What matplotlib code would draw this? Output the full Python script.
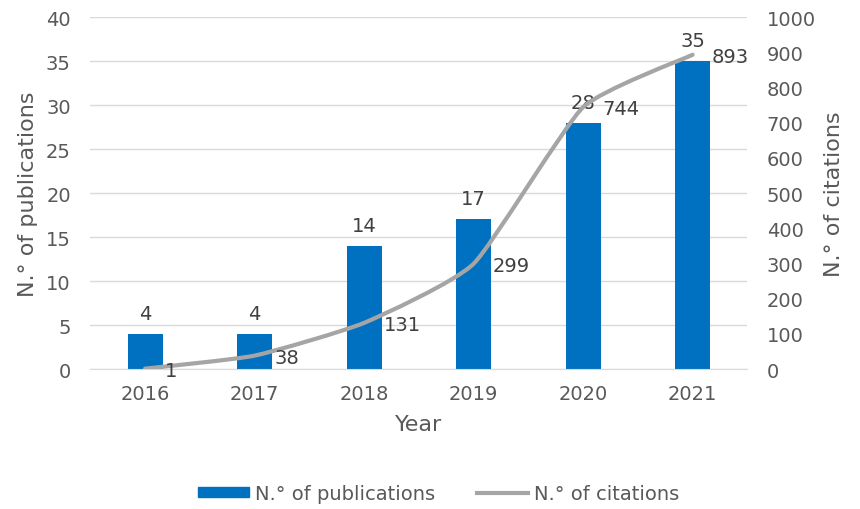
import matplotlib.pyplot as plt
from matplotlib.path import Path
from matplotlib.patches import PathPatch
from matplotlib.lines import Line2D
from matplotlib.patches import Patch

years = ['2016', '2017', '2018', '2019', '2020', '2021']
publications = [4, 4, 14, 17, 28, 35]
citations = [1, 38, 131, 299, 744, 893]

txt = '#595959'
plt.rcParams['font.family'] = ['DejaVu Sans']

fig = plt.figure(figsize=(8.6, 5.1), dpi=100)
ax = fig.add_axes([0.105, 0.2745, 0.764, 0.69])
ax2 = ax.twinx()

x = list(range(len(years)))
ax.bar(x, publications, width=0.32, color='#0070C0', zorder=2)
for xi, v in zip(x, publications):
    ax.annotate(str(v), (xi, v), xytext=(0, 8), textcoords='offset points',
                ha='center', va='bottom', fontsize=14, color='#404040')

# lightly smoothed line (Bezier through the points), in data coordinates
k = 12.0
pts = list(zip(x, citations))
verts = [pts[0]]
codes = [Path.MOVETO]
for i in range(len(pts) - 1):
    p0 = pts[i - 1] if i > 0 else pts[i]
    p1, p2 = pts[i], pts[i + 1]
    p3 = pts[i + 2] if i + 2 < len(pts) else pts[i + 1]
    c1 = (p1[0] + (p2[0] - p0[0]) / k, p1[1] + (p2[1] - p0[1]) / k)
    c2 = (p2[0] - (p3[0] - p1[0]) / k, p2[1] - (p3[1] - p1[1]) / k)
    verts += [c1, c2, p2]
    codes += [Path.CURVE4] * 3
ax2.add_patch(PathPatch(Path(verts, codes), fill=False, edgecolor='#A5A5A5',
                        lw=3, capstyle='round', zorder=3))
for xi, v in zip(x, citations):
    ax2.annotate(str(v), (xi, v), xytext=(14, -1), textcoords='offset points',
                 ha='left', va='center', fontsize=14, color='#404040')

ax.set_xlim(-0.5, len(years) - 0.5)
ax.set_ylim(0, 40)
ax.set_yticks(range(0, 41, 5))
ax2.set_ylim(0, 1000)
ax2.set_yticks(range(0, 1001, 100))
ax.set_xticks(x)
ax.set_xticklabels(years)

ax.grid(axis='y', color='#D9D9D9', lw=1, zorder=0)
ax.set_axisbelow(True)
for a in (ax, ax2):
    for s in a.spines.values():
        s.set_visible(False)
    a.tick_params(length=0, labelsize=14, colors=txt)
ax.spines['bottom'].set_visible(True)
ax.spines['bottom'].set_color('#D9D9D9')
ax.tick_params(axis='x', pad=11)
ax.tick_params(axis='y', pad=14)
ax2.tick_params(axis='y', pad=14)

ax.set_xlabel('Year', fontsize=16, color=txt, labelpad=8)
ax.set_ylabel('N.° of publications', fontsize=16, color=txt, labelpad=6)
ax2.set_ylabel('N.° of citations', fontsize=16, color=txt, labelpad=6)

handles = [Patch(color='#0070C0'), Line2D([], [], color='#A5A5A5', lw=3)]
fig.legend(handles, ['N.° of publications', 'N.° of citations'],
           loc='center', bbox_to_anchor=(0.51, 0.03), ncol=2, frameon=False,
           fontsize=14, labelcolor=txt, handlelength=2.6, handleheight=0.4,
           columnspacing=2.2, handletextpad=0.3)

fig.savefig('out.png', dpi=100)
